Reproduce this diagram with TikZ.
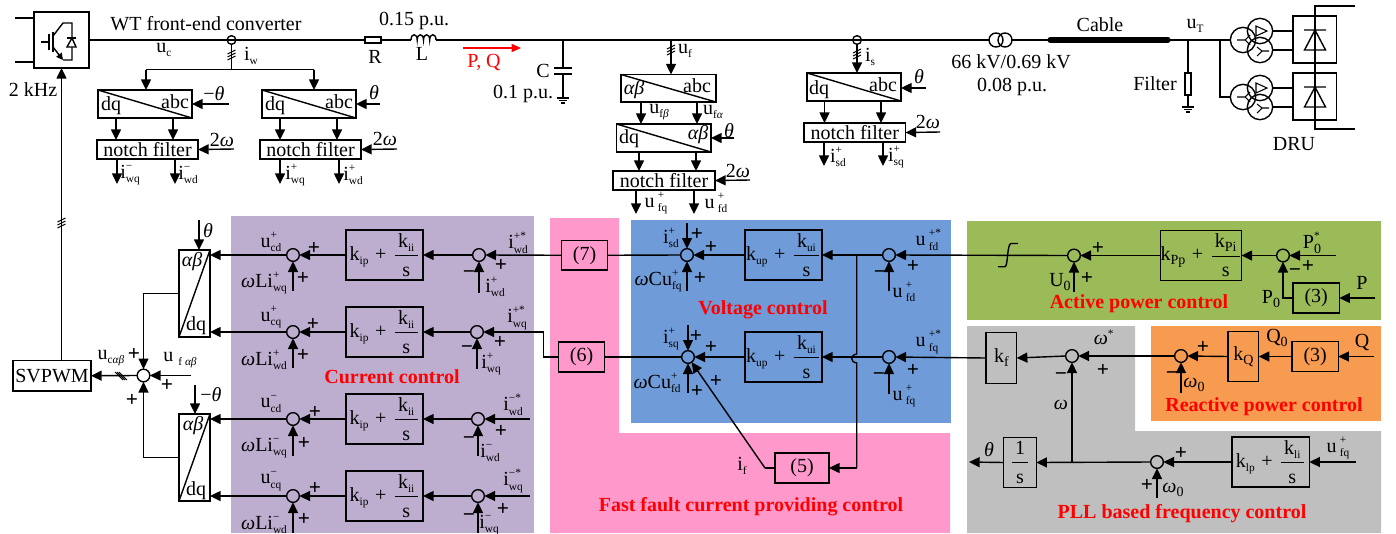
\documentclass[tikz,border=0pt]{standalone}
\usepackage{fontspec}
\setmainfont{Liberation Serif}
\usetikzlibrary{arrows.meta,calc}
\definecolor{cpurple}{HTML}{BDAECF}
\definecolor{cpink}{HTML}{FF99CC}
\definecolor{cblue}{HTML}{6F9BD8}
\definecolor{cgreen}{HTML}{9BBB59}
\definecolor{corange}{HTML}{F79B51}
\definecolor{cgray}{HTML}{BFBFBF}
\newcommand\subf{\fontsize{8.5}{8.5}\selectfont}
\newcommand\subg{\fontsize{10.5}{10.5}\selectfont}
\newcommand\supb[2]{\makebox[0pt][l]{\raisebox{6.5pt}{\subf #1}}\raisebox{-3.5pt}{\subf #2}}
\newcommand\sbb[1]{\raisebox{-3pt}{\subf #1}}
\newcommand\sbg[1]{\raisebox{-3pt}{\subg #1}}
\newcommand\om{\textit{ω}}
\newcommand\thet{\textit{θ}}
\newcommand\abx{\textit{αβ}}
\newcommand\denom[1]{\hbox{\rule{0pt}{14.4pt}#1}}
\newcommand\pifg[4]{k#1{#2}\,\,+\,\,$\displaystyle\frac{\hbox{\,k#1{#3}\,}}{\denom{s}}$}
\newcommand\pif[2]{\pifg{\sbb}{#1}{#2}{}}
\newcounter{labc}
\newcommand\lab[3]{\stepcounter{labc}\node[lbl] (lab\thelabc) at (#1,#2) {#3};}
\newcommand\redlab[3]{\stepcounter{labc}\node[redl] (lab\thelabc) at (#1,#2) {#3};}
\newcommand\plm[2]{\stepcounter{labc}\node[signm] (lab\thelabc) at (#1,#2) {+};}
\newcommand\mnm[2]{\stepcounter{labc}\node[signm] (lab\thelabc) at (#1,#2) {−};}
\newcommand\bx[6]{\pgfmathsetmacro\bw{(#4-(#2))*0.75}\pgfmathsetmacro\bh{(#5-(#3))*0.75}\node[boxn,minimum width=\bw pt,minimum height=\bh pt] (#1) at ({(#2+#4)/2},{(#3+#5)/2}) {#6};}
\newcommand\sj[3]{\node[sumj] (#1) at (#2,#3) {};}
\newcommand\feed[4]{\coordinate (f#1#2) at (#3,#4); \draw[arr] (f#1#2) -- (#1.#2);}
\newcommand\gnd[2]{\draw (#1-6,#2) -- (#1+6,#2) (#1-4,#2+2.5) -- (#1+4,#2+2.5) (#1-2,#2+5) -- (#1+2,#2+5);}
\newcommand\slashv[2]{\draw[line width=.7pt] (#1-4,#2-1) -- (#1+4,#2-5) (#1-4,#2+2) -- (#1+4,#2-2) (#1-4,#2+5) -- (#1+4,#2+1);}
\newcommand\slashh[2]{\draw[line width=.7pt] (#1-6,#2-4) -- (#1+2,#2+4) (#1-4,#2-4) -- (#1+4,#2+4) (#1-2,#2-4) -- (#1+6,#2+4);}
\tikzset{
  arr/.style={-{Triangle[length=8pt,width=7.5pt]}},
  boxn/.style={draw,rectangle,inner sep=0pt,outer sep=0pt,font=\fontsize{15}{15}\selectfont},
  sumj/.style={draw,circle,minimum size=9.5pt,inner sep=0pt,outer sep=0pt},
  lbl/.style={inner sep=0pt,outer sep=0pt,font=\fontsize{15}{15}\selectfont},
  redl/.style={inner sep=0pt,outer sep=0pt,text=red,font=\fontsize{15}{15}\selectfont\bfseries},
  signm/.style={inner sep=0pt,outer sep=0pt,font=\fontsize{16}{16}\selectfont\bfseries},
  wind/.style={draw,circle,minimum size=19pt,inner sep=0pt,outer sep=0pt},
  trc/.style={draw,circle,minimum size=10.5pt,inner sep=0pt,outer sep=0pt},
}
\begin{document}
\begin{tikzpicture}[x=0.75pt,y=-0.75pt,line width=1.05pt]
\useasboundingbox (0,0) rectangle (1396,533);
% backgrounds
\fill[cpurple] (231,216) rectangle (534,533);
\fill[cpink] (550,218) -- (619,218) -- (619,433) -- (950,433) -- (950,533) -- (550,533) -- cycle;
\fill[cblue] (631,220) rectangle (951,423);
\fill[cgreen] (967,221) rectangle (1381,320);
\fill[cgray] (967,326) -- (1135,326) -- (1135,431) -- (1381,431) -- (1381,533) -- (967,533) -- cycle;
\fill[corange] (1151,326) rectangle (1381,421);
%
% converter
\bx{conv}{34}{12}{89}{68}{}
\coordinate (dcA) at (15,18); \coordinate (dcB) at (15,62);
\draw (dcA) -- (dcA -| conv.west) (dcB) -- (dcB -| conv.west);
\draw (41,42) -- (49,42) (49,34) -- (49,50);
\draw[line width=1.3pt] (53,32) -- (53,52);
\draw (53,36) -- (63,23) -- (72,23) -- (72,60) -- (63,60);
\draw[-{Triangle[length=5pt,width=5pt]}] (53,47) -- (63,60);
\draw[fill=white] (72,38) -- (67,47) -- (76,47) -- cycle;
\draw (67,38) -- (76,38);
% bus
\node[sumj,minimum size=6.5pt] (siw) at (231.5,40) {};
\bx{resR}{365}{37}{381}{43}{}
\coordinate (Lin) at (411,40); \coordinate (Lout) at (436,40);
\draw (conv.east |- resR.west) -- (resR.west);
\draw (resR.east) -- (Lin);
\draw (Lin) .. controls (411,33) and (417.2,33) .. (417.2,40) .. controls (417.2,33) and (423.5,33) .. (423.5,40) .. controls (423.5,33) and (429.7,33) .. (429.7,40) .. controls (429.7,33) and (436,33) .. (Lout);
\node[trc] (trA) at (996,40) {};
\node[trc] (trB) at (1005,40) {};
\draw (Lout) -- (trA.west);
\coordinate (cabA) at (1050,40); \coordinate (cabB) at (1168,40); \coordinate (busE) at (1231,40);
\draw (trB.east) -- (cabA);
\draw[line width=4pt,line cap=round] (cabA) -- (cabB);
\draw (cabB) -- (busE);
\node[sumj,minimum size=6.5pt] (sis) at (857,40) {};
\lab{206}{24}{WT front-end converter}
\lab{414}{21}{0.15 p.u.}
\lab{375}{57}{R}
\lab{422}{54}{L}
\lab{164}{50}{u\sbb{c}}
\lab{251}{56}{i\sbb{w}}
\lab{33}{90}{2 kHz}
% i_w measurement
\coordinate (iwj) at (231.5,69.5);
\coordinate (iwl) at (146,69.5);
\coordinate (iwr) at (314,69.5);
\draw (siw.south) -- (iwj);
\slashv{231.5}{55}
\draw (iwl) -- (iwr);
% dq/abc neg
\bx{tA}{98}{90}{192}{118}{}
\bx{tB}{262}{90}{356}{118}{}
\draw[arr] (iwl) -- (iwl |- tA.north);
\draw[arr] (iwr) -- (iwr |- tB.north);
\draw (tA.north west) -- (tA.south east) (tB.north west) -- (tB.south east);
\lab{111}{106}{dq}\lab{175}{102}{abc}
\lab{275}{106}{dq}\lab{339}{102}{abc}
\bx{nA}{97}{140}{198}{159}{notch filter}
\bx{nB}{260}{140}{361}{159}{notch filter}
\draw[arr] (116,0 |- tA.south) -- (116,0 |- nA.north);
\draw[arr] (173,0 |- tA.south) -- (173,0 |- nA.north);
\draw[arr] (280,0 |- tB.south) -- (280,0 |- nB.north);
\draw[arr] (337,0 |- tB.south) -- (337,0 |- nB.north);
\coordinate (tAi) at (229,104); \coordinate (tBi) at (380,104);
\coordinate (nAi) at (234,149); \coordinate (nBi) at (397,149);
\draw[arr] (tAi) -- (tAi -| tA.east);
\draw[arr] (tBi) -- (tBi -| tB.east);
\draw[arr] (nAi) -- (nA.east);
\draw[arr] (nBi) -- (nB.east);
\lab{214}{94}{−\thet}\lab{374}{93}{\thet}
\lab{222}{140}{2\om}\lab{385}{139}{2\om}
\coordinate (oA1) at (117,184); \coordinate (oA2) at (175,184);
\coordinate (oB1) at (280,184); \coordinate (oB2) at (339,184);
\draw[arr] (oA1 |- nA.south) -- (oA1);
\draw[arr] (oA2 |- nA.south) -- (oA2);
\draw[arr] (oB1 |- nB.south) -- (oB1);
\draw[arr] (oB2 |- nB.south) -- (oB2);
\lab{130}{175}{i\supb{−}{wq}}\lab{188}{175}{i\supb{−}{wd}}
\lab{295}{175}{i\supb{+}{wq}}\lab{353}{175}{i\supb{+}{wd}}
% P Q
\coordinate (pqA) at (463,48); \coordinate (pqB) at (521,48);
\draw[red,-{Triangle[length=7pt,width=6pt]}] (pqA) -- (pqB);
\node[lbl,text=red] (pqlab) at (484,62) {P, Q};
% capacitor
\coordinate (cT) at (563,40); \coordinate (cP1) at (563,68); \coordinate (cP2) at (563,74); \coordinate (cG) at (563,98);
\draw (cT) -- (cP1) (cP2) -- (cG);
\draw (554,68) -- (572,68) (554,74) -- (572,74);
\gnd{563}{98}
\lab{543}{71}{C}\lab{523}{94}{0.1 p.u.}
% u_f measurement
\coordinate (ufT) at (671,40);
\bx{tC}{621}{74.5}{716}{102}{}
\bx{tD}{616.5}{124}{711}{152}{}
\bx{nC}{613}{171}{715}{190}{notch filter}
\draw[arr] (ufT) -- (ufT |- tC.north);
\slashv{671}{50}
\lab{685}{51}{u\sbb{f}}
\draw (tC.north west) -- (tC.south east) (tD.north west) -- (tD.south east);
\lab{634}{90}{\abx}\lab{697}{86}{abc}
\lab{629}{139}{dq}\lab{698}{135}{\abx}
\draw[arr] (641,0 |- tC.south) -- (641,0 |- tD.north);
\draw[arr] (697,0 |- tC.south) -- (697,0 |- tD.north);
\draw[arr] (639,0 |- tD.south) -- (639,0 |- nC.north);
\draw[arr] (696,0 |- tD.south) -- (696,0 |- nC.north);
\lab{659}{112}{u\sbb{f\textit{β}}}\lab{713}{112}{u\sbb{f\textit{α}}}
\coordinate (tDi) at (734,138); \coordinate (nCi) at (750,180);
\draw[arr] (tDi) -- (tDi -| tD.east);
\draw[arr] (nCi) -- (nC.east);
\lab{729}{131}{\thet}\lab{738}{171}{2\om}
\coordinate (oC1) at (636,214); \coordinate (oC2) at (694,214);
\draw[arr] (oC1 |- nC.south) -- (oC1);
\draw[arr] (oC2 |- nC.south) -- (oC2);
\lab{656}{203}{u\,\supb{+}{fq}}\lab{716}{203}{u\,\supb{+}{fd}}
% i_s measurement
\bx{tE}{807}{73}{901}{101}{}
\bx{nE}{804}{123}{905.5}{142}{notch filter}
\draw[arr] (sis.south) -- (sis.south |- tE.north);
\slashv{857}{54}
\lab{870}{57}{i\sbb{s}}
\draw (tE.north west) -- (tE.south east);
\lab{819}{90}{dq}\lab{883}{85}{abc}
\draw[arr] (824.5,0 |- tE.south) -- (824.5,0 |- nE.north);
\draw[arr] (881,0 |- tE.south) -- (881,0 |- nE.north);
\coordinate (tEi) at (926,88); \coordinate (nEi) at (940,132);
\draw[arr] (tEi) -- (tEi -| tE.east);
\draw[arr] (nEi) -- (nE.east);
\lab{919}{77}{\thet}\lab{928}{122}{2\om}
\coordinate (oE1) at (824,166); \coordinate (oE2) at (883,166);
\draw[arr] (oE1 |- nE.south) -- (oE1);
\draw[arr] (oE2 |- nE.south) -- (oE2);
\lab{838}{157}{i\supb{+}{sd}}\lab{896}{157}{i\supb{+}{sq}}
% grid side
\lab{1011}{62}{66 kV/0.69 kV}\lab{1012}{87}{0.08 p.u.}
\lab{1100}{25}{Cable}\lab{1195}{26}{u\sbb{T}}
\lab{1155}{84}{Filter}
\coordinate (flT) at (1188,40); \coordinate (flG) at (1188,107);
\bx{resF}{1185}{73}{1191}{95}{}
\draw (flT) -- (resF.north) (resF.south) -- (flG);
\gnd{1188}{107}
\coordinate (druj) at (1220,40);
\node[wind] (wA) at (1243,40) {};
\node[wind] (wB) at (1260,31) {};
\node[wind] (wC) at (1260,50) {};
\node[wind] (wD) at (1243,97) {};
\node[wind] (wE) at (1260,88) {};
\node[wind] (wF) at (1260,107) {};
\draw (druj) |- (wD.west);
\foreach \yy in {0,57}{
  \draw[line width=.8pt] (1256,26+\yy) -- (1267,31+\yy) -- (1256,36+\yy) -- cycle;
  \draw[line width=.8pt] (1262,51+\yy) -- (1269,51+\yy) (1262,51+\yy) -- (1257,47+\yy) (1262,51+\yy) -- (1257,56+\yy);
  \draw[line width=.8pt] (1245,40+\yy) -- (1237,40+\yy) (1245,40+\yy) -- (1250,35+\yy) (1245,40+\yy) -- (1250,45+\yy);
}
\bx{rU}{1293}{16}{1336.5}{63}{}
\bx{rL}{1293}{73}{1336.5}{120}{}
\draw (wB.east) -- (wB.east -| rU.west) (wC.east) -- (wC.east -| rU.west);
\draw (wE.east) -- (wE.east -| rL.west) (wF.east) -- (wF.east -| rL.west);
\coordinate (dcT) at (1355,6); \coordinate (dcL) at (1355,129);
\draw (dcT) -- (1315,6) -- (1315,129) -- (dcL);
\draw (1304,30) -- (1326,30) (1315,30) -- (1304.5,50) -- (1325.5,50) -- cycle;
\draw (1304,87) -- (1326,87) (1315,87) -- (1304.5,107) -- (1325.5,107) -- cycle;
\lab{1294}{144}{DRU}
%
% SVPWM
\bx{svp}{13}{360.5}{91}{391}{SVPWM}
\sj{sg}{143.5}{375.5}
\draw[arr] (conv.south |- svp.north) -- (conv.south);
\slashv{61.5}{223}
\draw[arr] (sg.west) -- (svp.east);
\slashh{121}{376}
\lab{111}{358}{u\sbb{c\textit{αβ}}}
\lab{180}{360}{u \sbb{f \textit{αβ}}}
\feed{sg}{east}{191}{375.5}
\plm{134}{354}\plm{132}{400}\plm{167}{385}
% transforms
\bx{tu}{179}{250}{210}{337}{}
\bx{tl}{179}{414}{210}{501}{}
\draw (tu.south west) -- (tu.north east) (tl.south west) -- (tl.north east);
\lab{192}{262}{\abx}\lab{196}{326}{dq}
\lab{193}{426}{\abx}\lab{196}{491}{dq}
\coordinate (tuT) at (199,220); \coordinate (tlT) at (195,385);
\draw[arr] (tuT) -- (tuT |- tu.north);
\draw[arr] (tlT) -- (tlT |- tl.north);
\lab{208}{231}{\thet}\lab{211}{395}{−\thet}
\draw[arr] (tu.west) -| (sg.north);
\draw[arr] (tl.west) -| (sg.south);
% current control
\sj{sc1}{293}{255}\sj{sc2}{293}{332}\sj{sc3}{293}{419}\sj{sc4}{293}{496}
\sj{se1}{479}{255}\sj{se2}{477}{332}\sj{se3}{478}{419}\sj{se4}{478}{496}
\bx{pa}{346}{230}{423}{280}{\pif{ip}{ii}}
\bx{pb}{346}{307}{423}{357}{\pif{ip}{ii}}
\bx{pc}{346}{394}{423}{444}{\pif{ip}{ii}}
\bx{pd}{346}{471}{423}{521}{\pif{ip}{ii}}
\draw[arr] (sc1.west) -- (sc1.west -| tu.east);
\draw[arr] (sc2.west) -- (sc2.west -| tu.east);
\draw[arr] (sc3.west) -- (sc3.west -| tl.east);
\draw[arr] (sc4.west) -- (sc4.west -| tl.east);
\draw[arr] (pa.west) -- (sc1.east);\draw[arr] (pb.west) -- (sc2.east);\draw[arr] (pc.west) -- (sc3.east);\draw[arr] (pd.west) -- (sc4.east);
\draw[arr] (se1.west) -- (pa.east);\draw[arr] (se2.west) -- (pb.east);\draw[arr] (se3.west) -- (pc.east);\draw[arr] (se4.west) -- (pd.east);
\feed{sc1}{south}{293}{291}\feed{sc2}{south}{293}{368}\feed{sc3}{south}{293}{456}\feed{sc4}{south}{293}{533}
\feed{se1}{south}{479}{293}\feed{se2}{south}{477}{369}\feed{se3}{south}{478}{456}\feed{se4}{south}{478}{533}
\feed{se3}{east}{530}{419}\feed{se4}{east}{530}{496}
\lab{271}{242}{u\supb{+}{cd}}\lab{264}{283}{\om Li\supb{+}{wq}}\plm{314}{248}\plm{303}{278}
\lab{271}{317}{u\supb{+}{cq}}\lab{264}{360}{\om Li\supb{+}{wd}}\plm{313}{324}\plm{303}{355}
\lab{271}{404}{u\supb{−}{cd}}\lab{264}{448}{\om Li\supb{−}{wq}}\plm{315}{412}\plm{304}{443}
\lab{271}{481}{u\supb{−}{cq}}\lab{264}{525}{\om Li\supb{−}{wd}}\plm{315}{488}\plm{304}{519}
\lab{518}{243}{i\supb{+*}{wd}}\plm{501}{265}\mnm{469}{275}\lab{495}{287}{i\supb{+}{wd}}
\lab{517}{318}{i\supb{+*}{wq}}\plm{500}{342}\mnm{467}{350}\lab{491}{364}{i\supb{+}{wq}}
\lab{513}{405}{i\supb{−*}{wd}}\plm{501}{431}\mnm{469}{441}\lab{490}{453}{i\supb{−}{wd}}
\lab{513}{481}{i\supb{−*}{wq}}\plm{503}{509}\mnm{469}{518}\lab{489}{525}{i\supb{−}{wq}}
\redlab{392}{377}{Current control}
% (7) (6) (5)
\bx{seven}{561.5}{240.5}{607.5}{270}{(7)}
\bx{six}{558.5}{342}{604.5}{372}{(6)}
\bx{five}{775}{453}{829}{483}{(5)}
\draw[arr] (seven.west) -- (se1.east);
\draw[arr] (six.west) -- ++(-15,0) |- (se2.east);
% voltage control
\sj{sv1}{687}{255}\sj{sv2}{688}{357}
\sj{sr1}{889}{255}\sj{sr2}{889}{357}
\bx{pv1}{745}{230}{822}{280}{\pif{up}{ui}}
\bx{pv2}{745}{332}{822}{382}{\pif{up}{ui}}
\draw (seven.east) -- (sv1.west);
\draw (six.east) -- (sv2.west);
\draw[arr] (pv1.west) -- (sv1.east);\draw[arr] (pv2.west) -- (sv2.east);
\draw[arr] (sr1.west) -- (pv1.east);\draw[arr] (sr2.west) -- (pv2.east);
\feed{sv1}{north}{687}{223}\feed{sv1}{south}{687}{291}
\feed{sv2}{north}{688}{325}\feed{sv2}{south}{688}{393}
\feed{sr1}{south}{889}{291}\feed{sr2}{south}{889}{394}
\coordinate (vj) at (856.7,255); \coordinate (vh1) at (856.7,354); \coordinate (vh2) at (856.7,363); \coordinate (vb) at (856.7,468);
\draw (vj) -- (vh1) .. controls (850,355) and (850,362) .. (vh2) -- (vb);
\draw[arr] (vb) -- (five.east);
\coordinate (fk) at (765,468);
\draw (five.west) -- (fk);
\draw[arr] (fk) -- (sv2.-55);
\lab{671}{238}{i\supb{+}{sd}}\plm{697}{234}\plm{711}{247}
\lab{658}{281}{\om Cu\supb{+}{fq}}\plm{700}{278}
\lab{671}{339}{i\supb{+}{sq}}\plm{696}{336}\plm{711}{347}
\lab{657}{383}{\om Cu\supb{+}{fd}}\plm{697}{391}\plm{716}{381}
\lab{742}{466}{i\sbb{f}}
\lab{927}{240}{u\,\supb{+*}{fd}}\plm{913}{266}\mnm{880}{275}\lab{904}{292}{u\,\supb{+}{fd}}
\lab{927}{342}{u\,\supb{+*}{fq}}\plm{913}{370}\mnm{879}{377}\lab{904}{396}{u\,\supb{+}{fq}}
\redlab{763}{310}{Voltage control}
\redlab{751}{507}{Fast fault current providing control}
% active power
\sj{sa1}{1074}{255.5}\sj{sa2}{1283}{255.5}
\bx{pa1}{1162.7}{230.7}{1239.3}{280.3}{\pifg{\sbg}{Pp}{Pi}{}}
\bx{p3}{1293}{283}{1339.3}{313}{(3)}
\draw[arr] (sa1.west) -- (sr1.east);
\draw[arr] (pa1.west) -- (sa1.east);
\draw[arr] (sa2.west) -- (pa1.east);
\feed{sa2}{east}{1336}{255.5}
\draw[arr] (p3.west) -| (sa2.south);
\feed{sa1}{south}{1074}{292}
\coordinate (pIn) at (1375,298);
\draw[arr] (pIn) -- (p3.east);
\draw (998,266.7) -- (1005,266.7) .. controls (1008,266.7) and (1007,243.5) .. (1011,243.5) -- (1018,243.5);
\lab{1312}{243}{P\supb{*}{\subg 0}}\plm{1308}{266}\mnm{1295}{273}\lab{1271}{299}{P\sbg{0}}\lab{1362}{283}{P}
\lab{1060}{282}{U\sbg{0}}\plm{1087}{278}\plm{1098}{248}
\redlab{1139}{304}{Active power control}
% PLL / frequency
\bx{kf}{986}{332.7}{1016.7}{383.3}{k\sbg{f}}
\sj{sw}{1072}{356}
\draw[arr] (kf.west) -- (sr2.east);
\draw[arr] (sw.west) -- (kf.east);
\lab{1104}{337}{\om$^{\hbox{\subf *}}$}\plm{1103}{370}\mnm{1061}{377}\lab{1061}{405}{\om}
\bx{intg}{1003.7}{437.7}{1036.3}{487.3}{$\displaystyle\frac{\hbox{\,1\,}}{\denom{s}}$}
\sj{sp}{1157}{462}
\bx{plp}{1232}{437}{1309.3}{487}{\pif{lp}{li}}
\draw[arr] (plp.west) -- (sp.east);
\draw[arr] (sp.west) -- (intg.east);
\coordinate (pj) at (1072,462);
\draw[arr] (pj) -- (sw.south);
\coordinate (thOut) at (969,462);
\draw[arr] (intg.west) -- (thOut);
\lab{989}{450}{\thet}
\feed{sp}{south}{1157}{498}
\feed{plp}{east}{1356}{462}
\plm{1181}{453}\plm{1147}{485}\lab{1173}{490}{\om\sbg{0}}
\lab{1338}{448}{u\,\supb{+}{fq}}
\redlab{1182}{514}{PLL based frequency control}
% reactive power
\sj{sq}{1181}{356}
\bx{kq}{1228}{331.3}{1258.7}{381.7}{k\sbg{Q}}
\bx{q3}{1292}{341.7}{1338.3}{371.3}{(3)}
\draw[arr] (sq.west) -- (sw.east);
\draw[arr] (kq.west) -- (sq.east);
\draw[arr] (q3.west) -- (kq.east);
\feed{q3}{east}{1374}{356.5}
\feed{sq}{south}{1181}{393}
\plm{1203}{347}\mnm{1172}{376}\lab{1194}{385}{\om\sbg{0}}
\lab{1277}{338}{Q\sbg{0}}\lab{1362}{342}{Q}
\redlab{1264}{407}{Reactive power control}
\end{tikzpicture}
\end{document}
